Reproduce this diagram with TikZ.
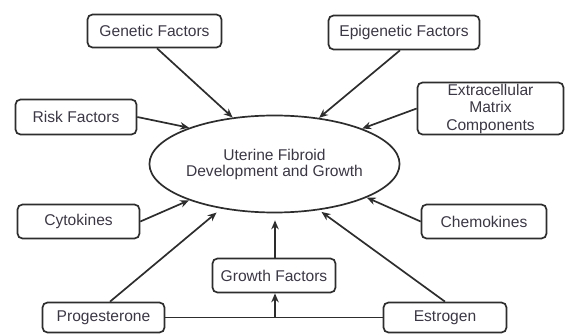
\documentclass[tikz,border=0pt]{standalone}
\usepackage{fontspec}
\setmainfont{Liberation Sans}
\usetikzlibrary{arrows.meta,shapes.geometric}
\definecolor{ln}{RGB}{45,45,45}
\definecolor{tx}{RGB}{60,55,70}
\begin{document}
\begin{tikzpicture}[x=1pt,y=-1pt,
  every node/.style={font=\fontsize{15.6}{17.5}\selectfont, text=tx},
  fbox/.style={draw=ln, line width=1.7pt, rounded corners=5pt, align=center, inner sep=0pt},
  arr/.style={draw=ln, line width=1.7pt, -{Stealth[length=9pt,width=7.5pt]}}]
\useasboundingbox (0,0) rectangle (566,334);
\node[fbox, minimum width=134pt, minimum height=33pt] (gen) at (154.5,31) {Genetic Factors};
\node[fbox, minimum width=151pt, minimum height=34pt] (epi) at (404,32.5) {Epigenetic Factors};
\node[fbox, minimum width=121pt, minimum height=35pt] (risk) at (76,117) {Risk Factors};
\node[fbox, minimum width=146pt, minimum height=52pt] (ecm) at (490.5,108.5) {Extracellular\\Matrix\\Components};
\node[draw=ln, line width=1.7pt, ellipse, minimum width=228pt, minimum height=97pt, inner sep=0pt, align=center, text=tx] (ell) at (274.5,164) {Uterine Fibroid\\[-1.5pt]Development and Growth};
\node[fbox, minimum width=122pt, minimum height=34pt] (cyt) at (78.5,221.5) {Cytokines};
\node[fbox, minimum width=125pt, minimum height=34pt] (chem) at (484,221.5) {Chemokines};
\node[fbox, minimum width=123pt, minimum height=34pt] (grow) at (274,275.5) {Growth Factors};
\node[fbox, minimum width=122pt, minimum height=30pt] (prog) at (103.5,317.5) {Progesterone};
\node[fbox, minimum width=123pt, minimum height=30pt] (estr) at (445,317.5) {Estrogen};
\coordinate (j) at (275,317.5);
\draw[draw=ln, line width=1.7pt] (prog.east) -- (estr.west);
\draw[arr] (j) -- (grow.south -| j);
\draw[arr, shorten >=7pt] (grow.north -| j) -- (ell.south -| j);
\draw[arr] ([xshift=2.5pt]gen.south) -- (ell.132);
\draw[arr] (risk.east) -- (ell.157);
\draw[arr] ([xshift=-4pt]epi.south) -- (ell.46);
\draw[arr] (ecm.west) -- (ell.22);
\draw[arr] (cyt.east) -- (ell.203);
\draw[arr, shorten >=6pt] ([xshift=6.5pt]prog.north) -- (ell.220);
\draw[arr] (chem.west) -- (ell.-20);
\draw[arr, shorten >=3pt] (estr.north) -- (ell.-46);
\end{tikzpicture}
\end{document}
